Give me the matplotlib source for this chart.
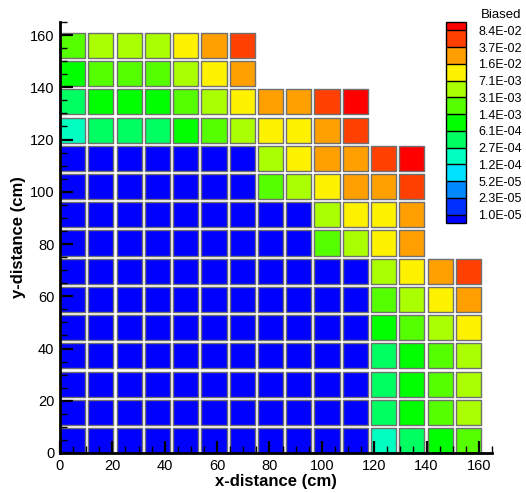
import numpy as np
import matplotlib
matplotlib.use("Agg")
import matplotlib.pyplot as plt
from matplotlib.colors import ListedColormap, BoundaryNorm
from matplotlib.patches import Rectangle
from matplotlib.collections import PatchCollection

plt.rcParams['font.family'] = ['Liberation Sans', 'DejaVu Sans']

# Contour levels of the legend
levels = [1.0e-05, 2.3e-05, 5.2e-05, 1.2e-04, 2.7e-04, 6.1e-04,
          1.4e-03, 3.1e-03, 7.1e-03, 1.6e-02, 3.7e-02, 8.4e-02]
colors = ['#0000FF',  # below 1.0E-05
          '#0030FF', '#0088FF', '#00E2FF', '#00FFC0', '#00FF60',
          '#00FF00', '#55FF00', '#AAFF00', '#FFF200', '#FFA000', '#FF4000',
          '#FF0000']  # above 8.4E-02
tick_labels = ['1.0E-05', '2.3E-05', '5.2E-05', '1.2E-04', '2.7E-04', '6.1E-04',
               '1.4E-03', '3.1E-03', '7.1E-03', '1.6E-02', '3.7E-02', '8.4E-02']

# Cell values; rows listed from the top row down
B, AQ, SP, G, LG, YG, Y, O, OR, R = (6.0e-06, 1.8e-04, 4.1e-04, 9.2e-04, 2.1e-03,
                                     4.7e-03, 1.07e-02, 2.4e-02, 5.6e-02, 1.2e-01)
rows_top_down = [
    [LG, YG, YG, YG, Y, O, OR],
    [G, LG, LG, LG, YG, Y, O],
    [SP, G, G, G, LG, YG, Y, O, O, OR, R],
    [AQ, SP, SP, SP, G, LG, YG, Y, Y, O, OR],
    [B] * 7 + [YG, Y, O, O, OR, R],
    [B] * 7 + [LG, YG, Y, O, O, OR],
    [B] * 9 + [YG, Y, Y, O],
    [B] * 9 + [LG, YG, Y, O],
    [B] * 11 + [YG, Y, O, OR],
    [B] * 11 + [LG, YG, Y, O],
    [B] * 11 + [G, LG, YG, Y],
    [B] * 11 + [SP, G, LG, YG],
    [B] * 11 + [SP, G, LG, YG],
    [B] * 11 + [SP, G, LG, YG],
    [B] * 11 + [AQ, SP, G, LG],
]

pitch = 10.8   # cm, cell spacing
size = 9.6     # cm, drawn cell size

cmap = ListedColormap(colors[1:-1])
cmap.set_under(colors[0])
cmap.set_over(colors[-1])
norm = BoundaryNorm(levels, cmap.N)

fig = plt.figure(figsize=(5.26, 4.93), dpi=100)
ax = fig.add_axes([60/526, 40/493, 432/526, 431/493])

patches, vals = [], []
nrows = len(rows_top_down)
for i, row in enumerate(rows_top_down):
    r = nrows - 1 - i
    for c, v in enumerate(row):
        patches.append(Rectangle((c * pitch, r * pitch), size, size))
        vals.append(v)
pc = PatchCollection(patches, cmap=cmap, norm=norm, edgecolor='#707070', linewidth=1.0)
pc.set_array(np.array(vals))
ax.add_collection(pc)

ax.set_xlim(0, 165)
ax.set_ylim(0, 165)
for s in ['top', 'right']:
    ax.spines[s].set_visible(False)
for s in ['left', 'bottom']:
    ax.spines[s].set_linewidth(2)
ax.set_xticks(np.arange(0, 161, 20))
ax.set_yticks(np.arange(0, 161, 20))
ax.set_xticks(np.arange(0, 166, 5), minor=True)
ax.set_yticks(np.arange(0, 166, 5), minor=True)
ax.tick_params(which='major', direction='in', length=9, width=1.6, labelsize=10.5, pad=4)
ax.tick_params(which='minor', direction='in', length=5, width=1.0)
ax.set_xlabel('x-distance (cm)', fontsize=12, fontweight='bold', labelpad=1)
ax.set_ylabel('y-distance (cm)', fontsize=12, fontweight='bold', labelpad=3)

# legend
cax = fig.add_axes([446/526, (493-223)/493, 20/526, 201/493])
cb = fig.colorbar(pc, cax=cax, extend='both', extendrect=True, extendfrac=0.045,
                  drawedges=True, spacing='uniform', ticks=levels)
cb.set_ticklabels(tick_labels)
cb.ax.tick_params(length=0, labelsize=9, pad=9)
cb.outline.set_linewidth(1.0)
cb.dividers.set_linewidth(1.0)
fig.text(501/526, 1 - 15/493, 'Biased', ha='center', va='center', fontsize=9.5)

fig.savefig('out.png', dpi=100)
